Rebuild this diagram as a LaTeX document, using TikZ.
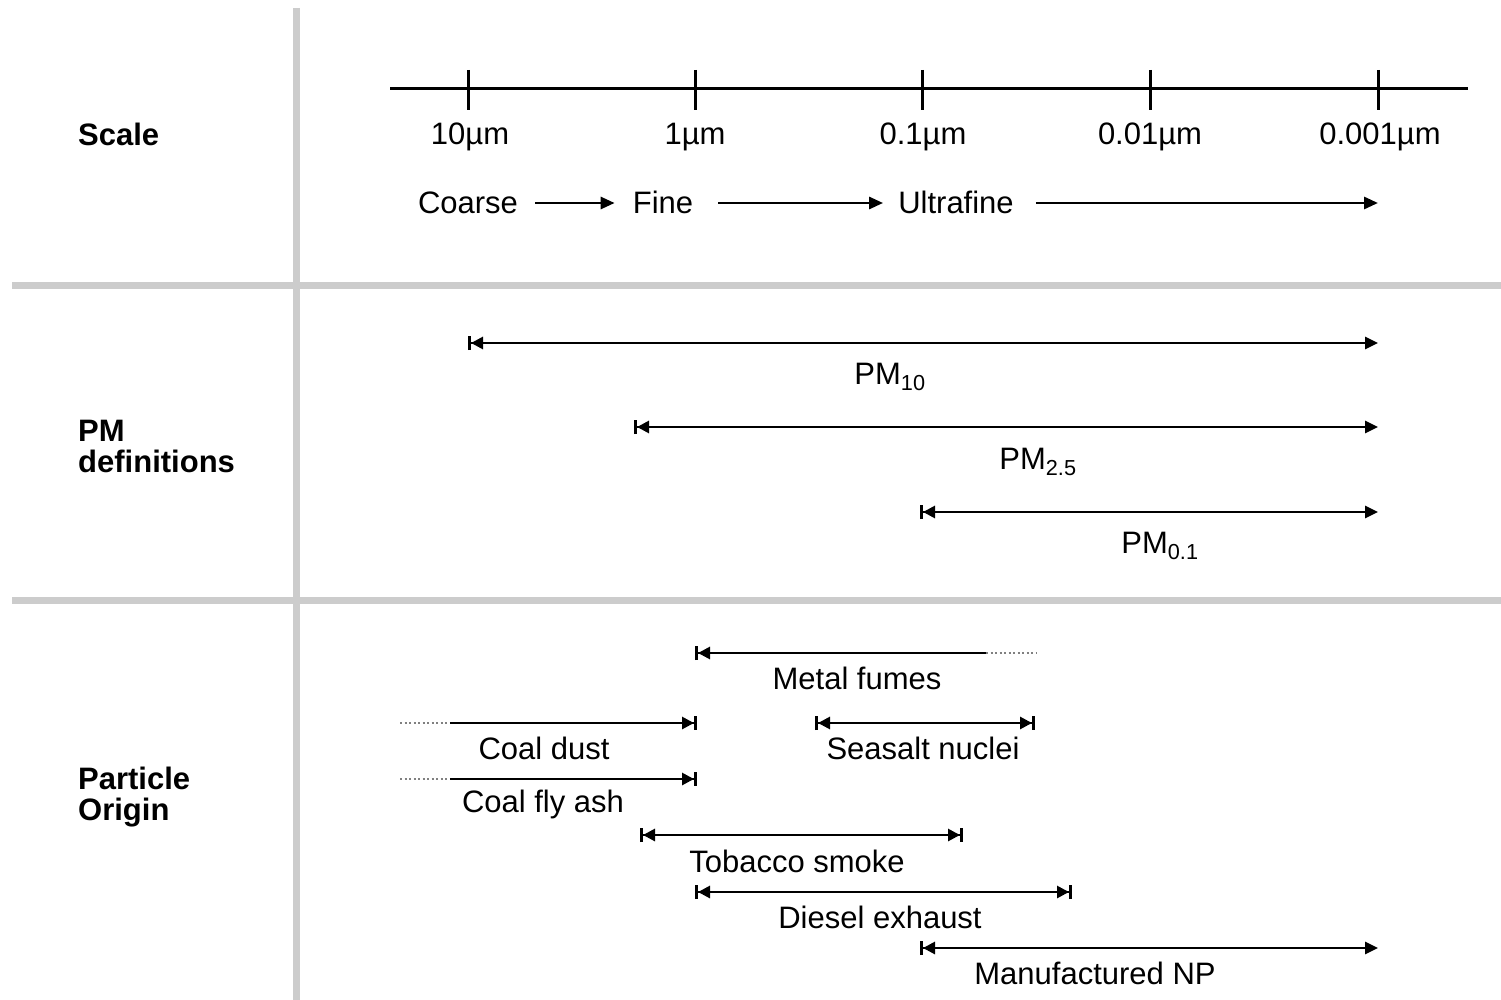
\documentclass[tikz,border=0pt]{standalone}
\usepackage{fontspec}
\setmainfont{Liberation Sans}
\usetikzlibrary{arrows.meta}
\tikzset{
  grid/.style={line width=7pt, color=black!20},
  axis/.style={line width=3pt},
  tri/.style={-{Triangle[length=14pt,width=12pt]}, line width=2.8pt},
  rng/.style={{Bar[width=14pt,line width=3pt]Triangle[length=12pt,width=12pt]}-{Triangle[length=13pt,width=12pt]}, line width=2.8pt},
  rngb/.style={{Bar[width=14pt,line width=3pt]Triangle[length=12pt,width=12pt]}-{Triangle[length=12pt,width=12pt]Bar[width=14pt,line width=3pt]}, line width=2.8pt},
  rngs/.style={{Bar[width=14pt,line width=3pt]Triangle[length=12pt,width=12pt]}-, line width=2.8pt},
  rnge/.style={-{Triangle[length=12pt,width=12pt]Bar[width=14pt,line width=3pt]}, line width=2.8pt},
  dots/.style={line width=2pt, color=black!50, dash pattern=on 2pt off 2.5pt},
  txt/.style={inner sep=0pt, font=\fontsize{31}{36}\selectfont},
  head/.style={inner sep=0pt, anchor=west, align=left, font=\fontsize{31}{31}\selectfont\bfseries},
}
\begin{document}
\begin{tikzpicture}[x=1pt,y=-1pt]
\useasboundingbox (0,0) rectangle (1501,1000);
% grid lines
\coordinate (vt) at (296,8);
\coordinate (vb) at (296,1000);
\coordinate (h1l) at (12,285);
\coordinate (h1r) at (1501,285);
\coordinate (h2l) at (12,600);
\coordinate (h2r) at (1501,600);
\draw[grid] (vt) -- (vb);
\draw[grid] (h1l) -- (h1r);
\draw[grid] (h2l) -- (h2r);
% headings
\node[head] (hscale) at (78,134) {Scale};
\node[head] (hpm) at (78,446) {PM\\definitions};
\node[head] (hpo) at (78,797) {Particle\\Origin};
% scale axis
\coordinate (al) at (390,89);
\coordinate (ar) at (1468,89);
\draw[axis] (al) -- (ar);
\foreach \n/\x in {1/468,2/695,3/922,4/1150,5/1378}{
  \coordinate (tt\n) at (\x,70);
  \coordinate (tb\n) at (\x,110);
  \draw[axis] (tt\n) -- (tb\n);
}
\node[txt] (l1) at (470,137) {10µm};
\node[txt] (l2) at (695,137) {1µm};
\node[txt] (l3) at (923,137) {0.1µm};
\node[txt] (l4) at (1150,137) {0.01µm};
\node[txt] (l5) at (1380,137) {0.001µm};
% coarse fine ultrafine
\node[txt, anchor=base] (coarse) at (468,214) {Coarse};
\node[txt, anchor=base] (fine) at (663,214) {Fine};
\node[txt, anchor=base] (ultra) at (956,214) {Ultrafine};
\coordinate (cy) at (0,203);
\coordinate (uend) at (1378,203);
\draw[tri] ([xshift=17pt]coarse.east |- cy) -- ([xshift=-18pt]fine.west |- cy);
\draw[tri] ([xshift=25pt]fine.east |- cy) -- ([xshift=-15pt]ultra.west |- cy);
\draw[tri] ([xshift=22pt]ultra.east |- cy) -- (uend);
% PM definitions
\coordinate (p10a) at (468,343);  \coordinate (p10b) at (1378,343);
\coordinate (p25a) at (634,427);  \coordinate (p25b) at (1378,427);
\coordinate (p01a) at (920,512);  \coordinate (p01b) at (1378,512);
\draw[rng] (p10a) -- (p10b);
\draw[rng] (p25a) -- (p25b);
\draw[rng] (p01a) -- (p01b);
\node[txt] (pm10) at (890,377) {PM\textsubscript{10}};
\node[txt] (pm25) at (1038,462) {PM\textsubscript{2.5}};
\node[txt] (pm01) at (1160,546) {PM\textsubscript{0.1}};
% particle origin
\coordinate (mfa) at (695,653); \coordinate (mfb) at (986,653); \coordinate (mfc) at (1036,653);
\draw[rngs] (mfa) -- (mfb);
\draw[dots] (mfb) -- (mfc);
\node[txt] (mf) at (857,678) {Metal fumes};
\coordinate (cda) at (400,723); \coordinate (cdb) at (450,723); \coordinate (cdc) at (697,723);
\draw[dots] (cda) -- (cdb);
\draw[rnge] (cdb) -- (cdc);
\node[txt] (cd) at (544,748) {Coal dust};
\coordinate (ssa) at (815,723); \coordinate (ssb) at (1035,723);
\draw[rngb] (ssa) -- (ssb);
\node[txt] (ss) at (923,748) {Seasalt nuclei};
\coordinate (cfa) at (400,779); \coordinate (cfb) at (450,779); \coordinate (cfc) at (697,779);
\draw[dots] (cfa) -- (cfb);
\draw[rnge] (cfb) -- (cfc);
\node[txt] (cf) at (543,804) {Coal fly ash};
\coordinate (tsa) at (640,835); \coordinate (tsb) at (963,835);
\draw[rngb] (tsa) -- (tsb);
\node[txt] (ts) at (797,861) {Tobacco smoke};
\coordinate (dea) at (695,892); \coordinate (deb) at (1072,892);
\draw[rngb] (dea) -- (deb);
\node[txt] (de) at (880,917) {Diesel exhaust};
\coordinate (npa) at (920,948); \coordinate (npb) at (1378,948);
\draw[rng] (npa) -- (npb);
\node[txt] (np) at (1095,973) {Manufactured NP};
\end{tikzpicture}
\end{document}
